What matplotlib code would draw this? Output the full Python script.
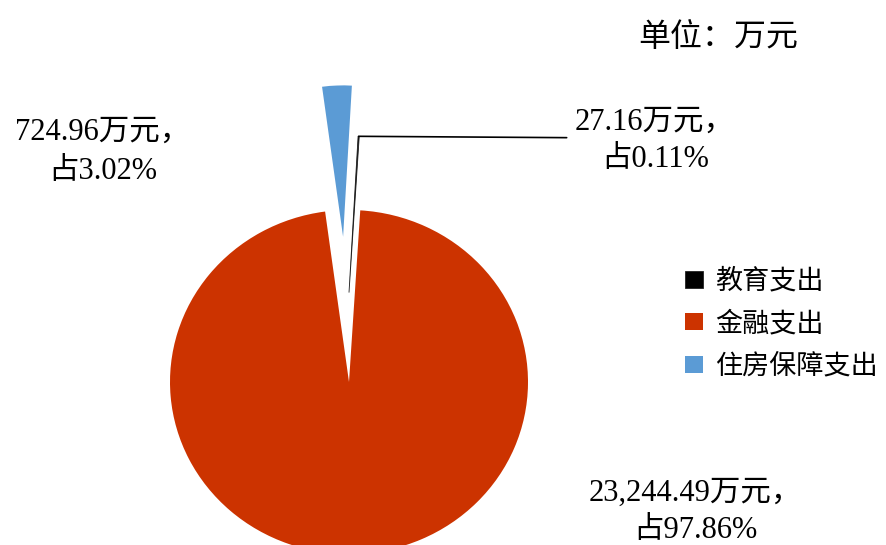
import matplotlib.pyplot as plt
import numpy as np
from matplotlib.font_manager import FontProperties

# data (万元)
labels = ['教育支出', '金融支出', '住房保障支出']
values = [27.16, 23244.49, 724.96]
shares = ['0.11%', '97.86%', '3.02%']
colors = ['#000000', '#CC3300', '#5B9BD5']
explode = [0.52, 0, 0.845]
unit_text = '单位：万元'

W, H = 886, 545
cx, cy = 349, 382      # pie centre, pixels
rx, ry = 179, 172      # picture is a bit squashed vertically

fonts = ['Liberation Serif', 'Noto Sans CJK SC']


def fx(x):
    return x / W


def fy(y):
    return 1 - y / H


fig = plt.figure(figsize=(W / 100, H / 100), dpi=100)
ax = fig.add_axes([0, 0, 1, 1])

wedges, _ = ax.pie(values, colors=colors, startangle=86.8, counterclock=False,
                   explode=explode, wedgeprops=dict(linewidth=0))
# the two small slices are cut short in the picture;
# the black sliver is pulled straight up
wedges[0].set_center((0, explode[0]))
wedges[0].set_radius(0.91)
wedges[0].set_edgecolor('#222222')
wedges[0].set_linewidth(0.6)
wedges[2].set_radius(0.88)

ax.set_aspect('auto')
ax.set_xlim(-cx / rx, (W - cx) / rx)
ax.set_ylim(-(H - cy) / ry, cy / ry)
ax.axis('off')

# label with leader line for the tiny slice
w = wedges[0]
th = np.deg2rad((w.theta1 + w.theta2) / 2)
tip = (w.center[0] + w.r * np.cos(th), w.center[1] + w.r * np.sin(th))
ax.annotate(f'{values[0]:,.2f}万元，\n占{shares[0]}', xy=tip,
            xytext=(fx(655), fy(141)), textcoords='figure fraction',
            ha='center', va='center', fontsize=22, family=fonts,
            linespacing=1.35,
            arrowprops=dict(arrowstyle='-', color='black', lw=1.2,
                            relpos=(0, 0.55), shrinkA=4, shrinkB=0))

fig.text(fx(103), fy(152), f'{values[2]:,.2f}万元，\n占{shares[2]}',
         ha='center', va='center', fontsize=22, family=fonts, linespacing=1.45)
fig.text(fx(695), fy(512), f'{values[1]:,.2f}万元，\n占{shares[1]}',
         ha='center', va='center', fontsize=22, family=fonts, linespacing=1.35)
fig.text(fx(718), fy(38), unit_text, ha='center', va='center',
         fontsize=23, family=fonts)

ax.legend(wedges, labels, loc='upper left',
          bbox_to_anchor=(fx(685), fy(269)), bbox_transform=fig.transFigure,
          frameon=False, prop=FontProperties(family=fonts, size=19.5),
          handlelength=0.65, handleheight=0.6, handletextpad=0.45,
          labelspacing=0.62, borderpad=0, borderaxespad=0)

fig.savefig('out.png', dpi=100)
